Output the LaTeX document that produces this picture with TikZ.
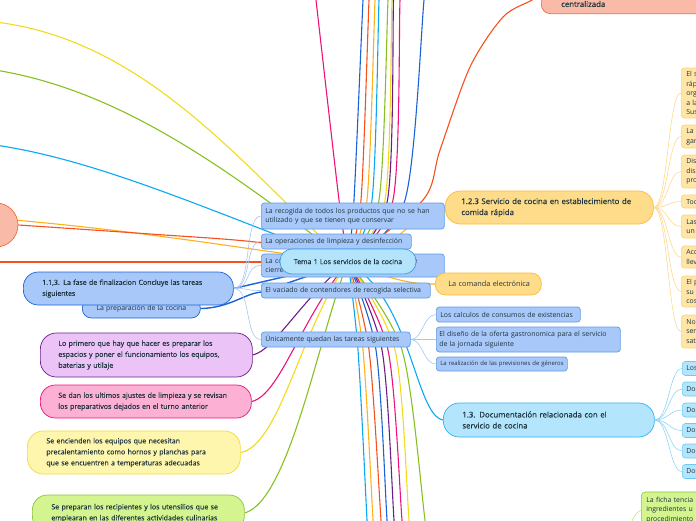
\documentclass[tikz,border=0pt]{standalone}
\usepackage{fontspec}
\setmainfont{Open Sans}
\newfontfamily\sbf[FakeBold=0.35]{Open Sans}
\usetikzlibrary{backgrounds}
\definecolor{txt}{HTML}{1F3540}
\definecolor{bfill}{HTML}{A7C8F8}
\definecolor{bdraw}{HTML}{5E9BE6}
\definecolor{dblue}{HTML}{1A62D6}
\definecolor{cenfill}{HTML}{B4E4FB}
\definecolor{cendraw}{HTML}{3A9FE0}
\definecolor{cpink}{HTML}{F0127A}
\definecolor{pinkfill}{HTML}{FBB0D4}
\definecolor{cpurple}{HTML}{6B1F86}
\definecolor{purfill}{HTML}{EBC3F7}
\definecolor{cyellow}{HTML}{F2DB1C}
\definecolor{yelfill}{HTML}{FFF6AE}
\definecolor{yeldraw}{HTML}{F2DB3C}
\definecolor{cgreen}{HTML}{88C020}
\definecolor{grefill}{HTML}{D3F48F}
\definecolor{gredraw}{HTML}{8CC43A}
\definecolor{corange}{HTML}{FFB11B}
\definecolor{orafill}{HTML}{FFDC8A}
\definecolor{oradraw}{HTML}{FDBB33}
\definecolor{rofill}{HTML}{FFE5A6}
\definecolor{rodraw}{HTML}{FFD27A}
\definecolor{cred}{HTML}{F4511E}
\definecolor{salfill}{HTML}{F9BBA7}
\definecolor{saldraw}{HTML}{F26A3C}
\definecolor{ccyan}{HTML}{0AA8F0}
\definecolor{cyafill}{HTML}{B3E5FC}
\definecolor{cyadraw}{HTML}{2FB3F3}
\definecolor{cyadraw2}{HTML}{6CCBF6}
\definecolor{bluefan}{HTML}{A8C6F2}
\definecolor{orafan}{HTML}{FFD98E}
\definecolor{cyafan}{HTML}{8ED6F7}
\definecolor{grefan}{HTML}{C5E37E}
\newcommand{\fsm}{\fontsize{6.9}{9.5}\selectfont}
\newcommand{\fsl}{\fontsize{7.05}{11}\selectfont}
\newcommand{\fsh}{\fontsize{7.8}{11}\selectfont}
\newcommand{\fsc}{\fontsize{7.3}{11}\selectfont}
\newcommand{\fsf}{\fontsize{7.0}{11}\selectfont}
\newcommand{\fss}{\fontsize{5.95}{7}\selectfont}
\tikzset{
  nd/.style={draw, line width=0.7pt, align=left, inner ysep=0pt, text=txt, anchor=west},
  bn/.style={nd, fill=bfill, draw=bdraw, rounded corners=3pt, inner xsep=4pt, font=\fsm},
  rn/.style={nd, fill=rofill, draw=rodraw, rounded corners=3pt, inner xsep=5pt, text width=50pt, font=\fsm, line width=0.6pt},
  dn/.style={nd, fill=cyafill, draw=cyadraw2, rounded corners=3pt, inner xsep=4pt, text width=50pt, font=\fsm, line width=0.6pt, minimum height=14pt},
  ml/.style={line width=1.1pt},
  fan/.style={line width=0.6pt}
}
\begin{document}
\begin{tikzpicture}[x=1pt,y=-1pt]
\useasboundingbox (0,0) rectangle (696,520);
\coordinate (C) at (348,262);

% ---- left-side off-screen circle
\node[circle, fill=salfill, draw=saldraw, line width=0.7pt, minimum size=44pt, inner sep=0pt] (circ) at (-4,225) {};

% ---- blue children
\node[bn, text width=175pt, minimum height=26pt] (recog) at (261,216) {La recogida de todos los productos que no se han\\utilizado y que se tienen que conservar};
\node[bn, text width=142pt, minimum height=15pt] (oper) at (261,241.5) {La operaciones de limpieza y desinfección};
\node[bn, text width=175pt, minimum height=23pt] (lac) at (261,265.5) {La comprobación de las instalaciones antes de\\cierre};
\node[bn, text width=161pt, minimum height=15pt] (vaciado) at (261,290.5) {El vaciado de contendores de recogida selectiva};
\node[bn, text width=141pt, minimum height=15pt] (unica) at (261,339.5) {Únicamente quedan las tareas siguientes};
\node[bn, text width=136pt, minimum height=15pt] (calc) at (436,314.5) {Los calculos de consumos de existencias};
\node[bn, inner xsep=3pt, text width=178pt, minimum height=25pt] (diseno) at (436,339.5) {El diseño de la oferta gastronomica para el servicio\\de la jornada siguiente};
\node[bn, inner xsep=1pt, text width=129pt, minimum height=14pt, font=\fss] (realiz) at (436,364) {\hspace*{3pt}\mbox{La realización de las previsiones de géneros}};

% ---- phase nodes
\node[nd, fill=bfill, draw=dblue, inner xsep=4pt, text width=110pt, align=center, minimum height=19pt, rounded corners=9pt, font=\fsm] (prep) at (82,308.5) {La preparación de la cocina};
\node[nd, fill=bfill, draw=dblue, inner xsep=19pt, text width=172pt, minimum height=33pt, rounded corners=15pt, font=\sbf\fsf] (fase) at (23,288.5) {1.1,3. La fase de finalizacion Concluye las tareas\\siguientes};

% ---- orange
\node[nd, fill=orafill, draw=oradraw, inner xsep=9pt, text width=88pt, minimum height=22pt, rounded corners=10pt, font=\fsc] (comanda) at (435,284) {\hspace*{4pt}La comanda electrónica};
\node[nd, fill=orafill, draw=oradraw, inner xsep=16pt, text width=176pt, minimum height=33pt, rounded corners=15pt, font=\sbf\fsh] (serv) at (445,207.5) {1.2.3 Servicio de cocina en establecimiento de\\comida rápida};
\node[rn, minimum height=50pt] (r1) at (681,93) {El s\\ráp\\org\\a la\\Sus};
\node[rn, minimum height=23pt] (r2) at (681,136.5) {La l\\gar};
\node[rn, minimum height=33pt] (r3) at (681,171.5) {Dis\\dis\\pro};
\node[rn, minimum height=13pt] (r4) at (681,201.5) {Tod};
\node[rn, minimum height=23pt] (r5) at (681,226.5) {Las\\un};
\node[rn, minimum height=22pt] (r6) at (681,257) {Acc\\llev};
\node[rn, minimum height=31pt] (r7) at (681,291.5) {El p\\su\\cos};
\node[rn, minimum height=33pt] (r8) at (681,331.5) {No\\ser\\sat};

% ---- top salmon
\node[nd, fill=salfill, draw=saldraw, rounded corners=9pt, minimum width=200pt, minimum height=44pt, anchor=south west] (ctop) at (541,14) {};
\node[anchor=west, text=txt, font=\sbf\fsh, inner sep=0pt] (ctopt) at (561,4) {centralizada};

% ---- documentation
\node[nd, fill=cyafill, draw=cyadraw, inner xsep=19pt, text width=173pt, minimum height=34pt, rounded corners=16pt, font=\sbf\fsh] (doc) at (443,420) {1.3. Documentación relacionada con el\\servicio de cocina};
\node[dn] (d1) at (682,368.5) {Los};
\node[dn] (d2) at (682,389) {Doc};
\node[dn] (d3) at (682,410) {Doc};
\node[dn] (d4) at (682,430.5) {Doc};
\node[dn] (d5) at (682,451) {Doc};
\node[dn] (d6) at (682,471.5) {Doc};
\node[nd, fill=grefill, draw=gredraw, rounded corners=4pt, inner xsep=5pt, text width=70pt, minimum height=36pt, font=\fsm, line width=0.6pt] (ficha) at (641,510) {La ficha tencia\\ingredientes u\\procedimiento};

% ---- left colored nodes
\node[nd, fill=purfill, draw=cpurple, inner xsep=17pt, text width=178pt, minimum height=44pt, rounded corners=16pt, font=\sbf\fsl] (pur) at (40,355) {\hspace*{1pt}Lo primero que hay que hacer es preparar los\\\hspace*{1pt}espacios y poner el funcionamiento los equipos,\\\hspace*{1pt}baterias y utilaje};
\node[nd, fill=pinkfill, draw=cpink, inner xsep=17pt, text width=177pt, minimum height=33pt, rounded corners=15pt, font=\sbf\fsl] (pin) at (40,401.5) {\hspace*{1pt}Se dan los ultimos ajustes de limpieza y se revisan\\\hspace*{1pt}los preparativos dejados en el turno anterior};
\node[nd, fill=yelfill, draw=yeldraw, inner xsep=19pt, text width=175pt, minimum height=43pt, rounded corners=16pt, font=\sbf\fsl] (yel) at (27,452.5) {Se encienden los equipos que necesitan\\precalentamiento como hornos y planchas para\\que se encuentren a temperaturas adecuadas};
\node[nd, fill=grefill, draw=gredraw, inner xsep=19pt, text width=174pt, minimum height=36pt, rounded corners=15pt, font=\sbf\fsl] (gre) at (32,513) {Se preparan los recipientes y los utensilios que se\\emplearan en las diferentes actividades culinarias};

% ---- central
\node[nd, anchor=center, fill=cenfill, draw=cendraw, text width=128pt, align=center, inner xsep=4pt, minimum height=25pt, rounded corners=12pt, font=\sbf\fsm] (cen) at (348,261.5) {Tema 1 Los servicios de la cocina};

\coordinate (gin) at (628,532);

\begin{pgfonlayer}{background}
% top lines
\draw[ml, cpink] plot[smooth] coordinates {(315,-10) (316,0) (339,200) (C)};
\draw[ml, dblue] plot[smooth] coordinates {(364,-10) (363,0) (354,200) (C)};
\draw[ml, cred] plot[smooth] coordinates {(369.5,-10) (369,0) (361,200) (C)};
\draw[ml, corange] plot[smooth] coordinates {(375.5,-10) (375,0) (367,200) (C)};
\draw[ml, ccyan] plot[smooth] coordinates {(379.5,-10) (379,0) (372,200) (C)};
\draw[ml, cgreen] plot[smooth] coordinates {(388.5,-10) (388,0) (379,200) (C)};
\draw[ml, cyellow] plot[smooth] coordinates {(392.5,-10) (392,0) (385,200) (C)};
\draw[ml, cpurple] plot[smooth] coordinates {(394,-10) (393.5,0) (387.5,200) (C)};
\draw[ml, cpink] plot[smooth] coordinates {(401,-10) (400,0) (393,200) (C)};
\draw[ml, dblue] plot[smooth] coordinates {(425,-10) (424,0) (405,200) (C)};
\draw[ml, cred] plot[smooth] coordinates {(ctop.west) (532,0) (503,17) (470,67) (440,150) (423,200) (C)};
% bottom lines
\draw[ml, ccyan] plot[smooth] coordinates {(C) (358,350) (367,520) (368,540)};
\draw[ml, corange] plot[smooth] coordinates {(C) (363,350) (373,520) (374,540)};
\draw[ml, cred] plot[smooth] coordinates {(C) (369,350) (381,520) (382.5,540)};
\draw[ml, dblue] plot[smooth] coordinates {(C) (376,350) (387,520) (388.5,540)};
\draw[ml, cpurple] plot[smooth] coordinates {(C) (382,350) (394,520) (395.5,540)};
\draw[ml, cpink] plot[smooth] coordinates {(C) (388,350) (402,520) (404,540)};
\draw[ml, cyellow] plot[smooth] coordinates {(C) (395,350) (409,520) (411,540)};
\draw[ml, cgreen] plot[smooth] coordinates {(C) (402,350) (425,520) (428,540)};
% left lines
\draw[ml, cyellow] (-5,22) .. controls (150,40) and (250,175) .. (C);
\draw[ml, cgreen] (-5,70) .. controls (120,90) and (230,170) .. (C);
\draw[ml, ccyan] (-5,145) .. controls (100,160) and (220,215) .. (C);
\draw[ml, corange] (circ.12) .. controls (150,232) and (250,250) .. (C);
\draw[ml, cred] plot[smooth] coordinates {(circ.east) (150,234) (263,243) (C)};
\draw[ml, cred] (-5,262) -- (C);
\draw[ml, dblue, line width=1.4pt] (fase.east) -- (C);
\draw[ml, dblue, line width=1.4pt] (prep.east) .. controls (230,308) and (245,293) .. (262,292) -- (C);
% left colored nodes
\draw[ml, cpurple] (pur.east) .. controls (275,350) and (300,300) .. (C);
\draw[ml, cpink] (pin.east) .. controls (280,395) and (300,320) .. (C);
\draw[ml, cyellow] (yel.east) .. controls (280,445) and (300,330) .. (C);
\draw[ml, cgreen] (gre.east) .. controls (290,500) and (320,330) .. (C);
% right main
\draw[ml, corange] (C) .. controls (400,250) and (415,207.5) .. (serv.west);
\draw[ml, corange] (C) .. controls (400,284) and (420,284) .. (comanda.west);
\draw[ml, ccyan] (C) .. controls (412,300) and (415,415) .. (doc.west);
% fans
\foreach \n in {recog,oper,lac,vaciado,unica}
  \draw[fan, bluefan] (fase.east) .. controls (252,288.5) and (244,0|-\n.west) .. (\n.west);
\foreach \n in {calc,diseno,realiz}
  \draw[fan, bluefan] (unica.east) .. controls (423,339.5) and (423,0|-\n.west) .. (\n.west);
\foreach \n in {r1,r2,r3,r4,r5,r6,r7,r8}
  \draw[fan, orafan] (serv.east) .. controls (668,207.5) and (668,0|-\n.west) .. (\n.west);
\foreach \n in {d1,d2,d3,d4,d5,d6}
  \draw[fan, cyafan] (doc.east) .. controls (669,420) and (669,0|-\n.west) .. (\n.west);
\draw[fan, grefan] (gin) .. controls (634,515) .. (ficha.west);
\end{pgfonlayer}
\end{tikzpicture}
\end{document}
